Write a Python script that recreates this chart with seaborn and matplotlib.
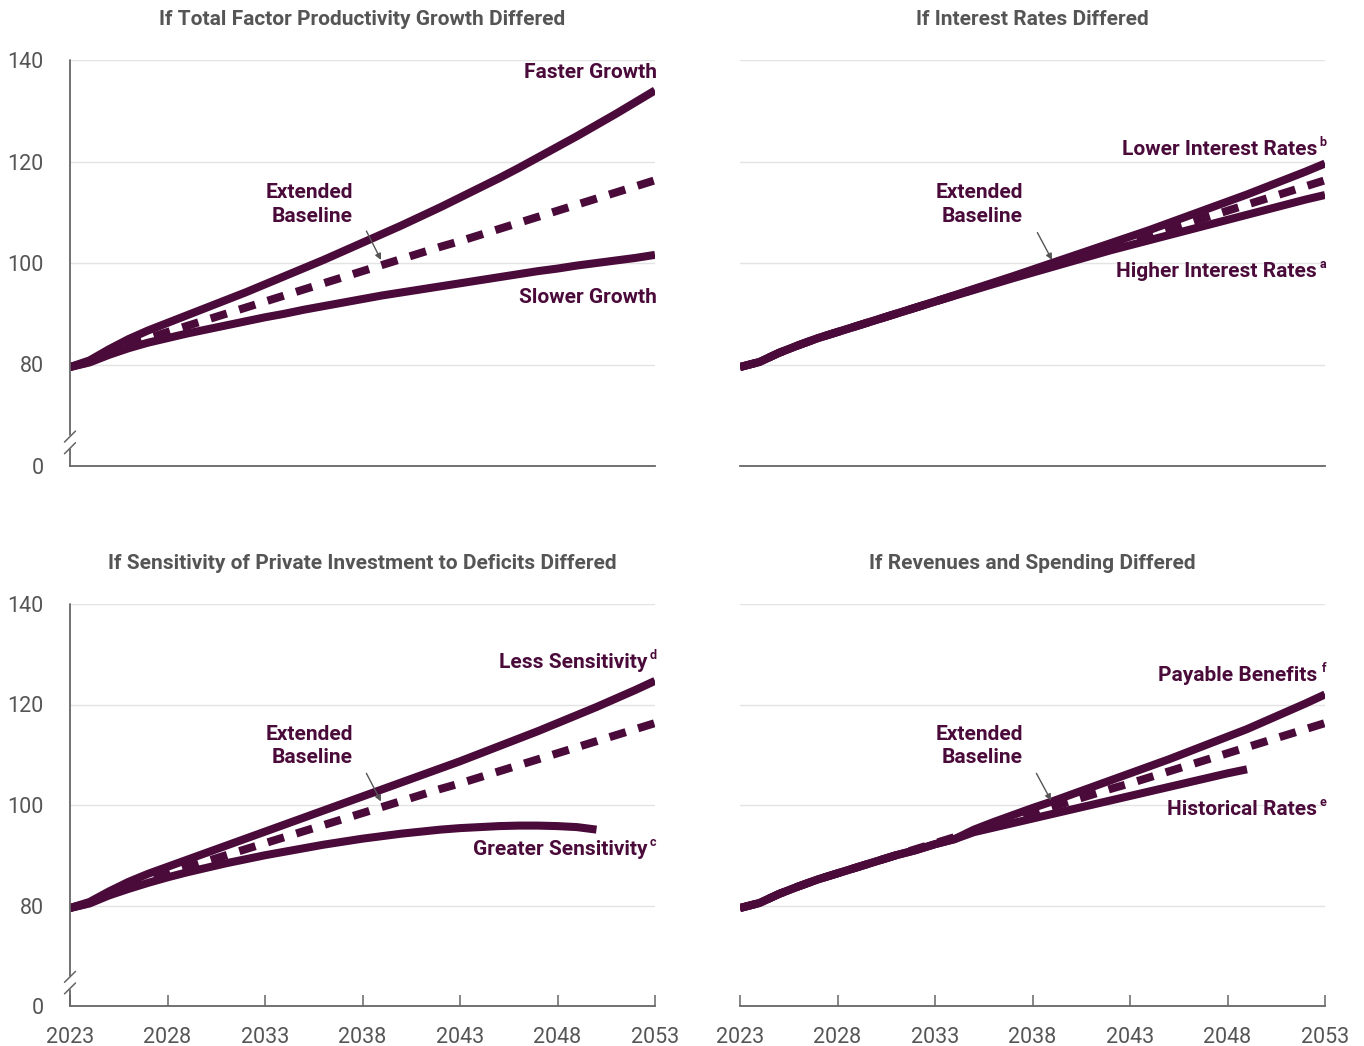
import numpy as np
import pandas as pd
import matplotlib
matplotlib.use("Agg")
import matplotlib.pyplot as plt
import seaborn as sns

years = list(range(2023, 2054))

baseline = [79.5, 80.5, 82.3, 83.8, 85.2, 86.4, 87.6, 88.8, 90.0, 91.2, 92.4, 93.6, 94.8, 96.0,
            97.2, 98.4, 99.6, 100.8, 102.0, 103.2, 104.3, 105.5, 106.7, 107.9, 109.1, 110.3,
            111.5, 112.7, 113.9, 115.1, 116.3]

faster_growth = [79.5, 80.8, 83.0, 85.0, 86.7, 88.2, 89.7, 91.2, 92.7, 94.2, 95.8, 97.4, 99.0,
                 100.6, 102.3, 104.0, 105.7, 107.4, 109.2, 111.0, 112.9, 114.8, 116.7, 118.7,
                 120.8, 122.9, 125.0, 127.2, 129.4, 131.7, 134.0]
slower_growth = [79.5, 80.4, 81.9, 83.2, 84.3, 85.2, 86.1, 86.9, 87.7, 88.5, 89.3, 90.0, 90.8,
                 91.5, 92.2, 92.9, 93.6, 94.2, 94.8, 95.4, 96.0, 96.6, 97.2, 97.8, 98.4, 98.9,
                 99.5, 100.0, 100.5, 101.0, 101.6]

lower_rates = [79.5, 80.5, 82.3, 83.8, 85.2, 86.4, 87.6, 88.8, 90.0, 91.2, 92.4, 93.65, 94.9,
               96.15, 97.4, 98.7, 100.0, 101.3, 102.6, 103.9, 105.2, 106.5, 107.9, 109.3,
               110.7, 112.1, 113.5, 115.0, 116.5, 118.0, 119.6]
higher_rates = [79.5, 80.5, 82.3, 83.8, 85.2, 86.4, 87.6, 88.8, 90.0, 91.2, 92.4, 93.55, 94.7,
                95.85, 97.0, 98.1, 99.2, 100.3, 101.4, 102.5, 103.5, 104.5, 105.5, 106.5,
                107.5, 108.5, 109.5, 110.5, 111.5, 112.5, 113.4]

less_sensitivity = [79.5, 80.7, 82.8, 84.7, 86.3, 87.7, 89.1, 90.5, 91.9, 93.3, 94.7, 96.1,
                    97.5, 98.9, 100.3, 101.7, 103.1, 104.5, 105.9, 107.3, 108.7, 110.2, 111.7,
                    113.2, 114.7, 116.3, 117.9, 119.5, 121.2, 122.9, 124.7]
greater_years = list(range(2023, 2051))
greater_sensitivity = [79.5, 80.4, 82.0, 83.3, 84.5, 85.6, 86.6, 87.5, 88.4, 89.2, 90.0, 90.7,
                       91.4, 92.1, 92.7, 93.3, 93.8, 94.3, 94.7, 95.1, 95.4, 95.6, 95.8, 95.9,
                       95.9, 95.8, 95.6, 95.1]

payable_benefits = [79.5, 80.5, 82.3, 83.8, 85.2, 86.4, 87.6, 88.8, 90.0, 91.0, 92.2, 93.2,
                    95.1, 96.6, 98.0, 99.4, 100.7, 102.1, 103.5, 104.9, 106.3, 107.7, 109.1,
                    110.6, 112.1, 113.6, 115.1, 116.8, 118.5, 120.2, 122.0]
historical_years = list(range(2023, 2050))
historical_rates = [79.5, 80.5, 82.3, 83.8, 85.2, 86.4, 87.6, 88.8, 90.0, 91.0, 92.2, 93.2,
                    94.6, 95.5, 96.4, 97.3, 98.2, 99.1, 100.0, 100.9, 101.8, 102.7, 103.6,
                    104.5, 105.4, 106.3, 107.1]

titles = ["If Total Factor Productivity Growth Differed",
          "If Interest Rates Differed",
          "If Sensitivity of Private Investment to Deficits Differed",
          "If Revenues and Spending Differed"]

y_ticks = [60, 80, 100, 120, 140]
y_ticklabels = ["0", "80", "100", "120", "140"]
x_ticks = [2023, 2028, 2033, 2038, 2043, 2048, 2053]

PURPLE = "#4a0a3a"
GRAY_TXT = "#555555"
SPINE = "#666666"
GRID = "#e3e3e3"

sns.set_theme(style="white")
FAM = ["Roboto", "DejaVu Sans"]
plt.rcParams["font.family"] = FAM

fig = plt.figure(figsize=(13.64, 10.46), dpi=100)
W, H = 1364, 1046

def make_ax(left_px, top_px, right_px, bottom_px):
    return fig.add_axes([left_px / W, 1 - bottom_px / H, (right_px - left_px) / W,
                         (bottom_px - top_px) / H])

axes = [make_ax(70, 60, 655, 466), make_ax(740, 60, 1325, 466),
        make_ax(70, 604, 655, 1006), make_ax(740, 604, 1325, 1006)]

LW = 5.8
DASH = (0, (2.1, 1.6))

def solid(ax, x, y):
    sns.lineplot(x=x, y=y, ax=ax, color=PURPLE, lw=LW, solid_capstyle="butt")

def dashed(ax, x, y):
    sns.lineplot(x=x, y=y, ax=ax, color=PURPLE, lw=LW, linestyle=DASH,
                 dash_capstyle="butt")

solid(axes[0], years, faster_growth)
solid(axes[0], years, slower_growth)
dashed(axes[0], years, baseline)

solid(axes[1], years, lower_rates)
solid(axes[1], years, higher_rates)
dashed(axes[1], years, baseline)

solid(axes[2], years, less_sensitivity)
solid(axes[2], greater_years, greater_sensitivity)
dashed(axes[2], years, baseline)

solid(axes[3], years, payable_benefits)
solid(axes[3], historical_years, historical_rates)
dashed(axes[3], years, baseline)

for i, ax in enumerate(axes):
    ax.set_xlim(2023, 2053)
    ax.set_ylim(60, 140)
    ax.set_xlabel("")
    ax.set_ylabel("")
    for s in ["top", "right", "left"]:
        ax.spines[s].set_visible(False)
    ax.spines["bottom"].set_color(SPINE)
    ax.spines["bottom"].set_linewidth(1.3)
    for v in [80, 100, 120, 140]:
        ax.axhline(v, color=GRID, lw=1.0, zorder=0)
    ax.set_yticks(y_ticks)
    if i % 2 == 0:
        ax.set_yticklabels(y_ticklabels)
        ax.tick_params(axis="y", length=0, pad=19, labelsize=15.5, labelcolor=GRAY_TXT)
        for lab in ax.get_yticklabels():
            lab.set_horizontalalignment("right")
        # left spine with break marks
        tr = ax.transAxes
        b1 = (63.5 - 60) / 80
        b2 = (65.8 - 60) / 80
        ax.plot([0, 0], [0, b1 - 0.003], transform=tr, color=SPINE, lw=1.3, clip_on=False)
        ax.plot([0, 0], [b2 + 0.003, 1], transform=tr, color=SPINE, lw=1.3, clip_on=False)
        dx = 5.5 / 585
        dy = 5.5 / 406
        for b in (b1, b2):
            ax.plot([-dx, dx], [b - dy, b + dy], transform=tr, color=SPINE, lw=1.1,
                    clip_on=False)
    else:
        ax.set_yticklabels([])
        ax.tick_params(axis="y", length=0)
    ax.set_xticks(x_ticks)
    if i >= 2:
        ax.set_xticklabels([str(t) for t in x_ticks])
        ax.tick_params(axis="x", direction="in", length=8, width=1.1, color=SPINE,
                       pad=15, labelsize=15.5, labelcolor=GRAY_TXT, bottom=True)
    else:
        ax.set_xticklabels([])
        ax.tick_params(axis="x", length=0)
    ax.set_title(titles[i], fontsize=15, fontweight="bold", color=GRAY_TXT, pad=25)

LBL = dict(color=PURPLE, fontsize=15, fontweight="bold")

def label(ax, x, y, text, sup=None):
    off = -7 if sup else 0
    ax.annotate(text, xy=(x, y), xytext=(off, 0), textcoords="offset points",
                ha="right", va="center", annotation_clip=False, **LBL)
    if sup:
        ax.annotate(sup, xy=(x, y), xytext=(-0.5, 5), textcoords="offset points",
                    ha="right", va="center", color=PURPLE, fontsize=9,
                    fontweight="bold", annotation_clip=False)

def baseline_label(ax, tx, ty, ax_, ay_):
    ax.annotate("Extended\nBaseline", xy=(tx, ty), ha="right", va="center",
                multialignment="right", linespacing=1.3, **LBL)
    ax.annotate("", xy=(ax_, ay_[1]), xytext=(ax_ - 0.75, ay_[0]),
                arrowprops=dict(arrowstyle="-|>", color="#555555", lw=1.0,
                                mutation_scale=9, shrinkA=0, shrinkB=0))

label(axes[0], 2053.1, 137.6, "Faster Growth")
label(axes[0], 2053.1, 93.2, "Slower Growth")
baseline_label(axes[0], 2037.5, 111.5, 2038.95, (106.3, 100.6))

label(axes[1], 2053.1, 122.3, "Lower Interest Rates", "b")
label(axes[1], 2053.1, 98.3, "Higher Interest Rates", "a")
baseline_label(axes[1], 2037.5, 111.5, 2039.0, (106.0, 100.6))

label(axes[2], 2053.1, 128.4, "Less Sensitivity", "d")
label(axes[2], 2053.1, 91.2, "Greater Sensitivity", "c")
baseline_label(axes[2], 2037.5, 111.7, 2038.95, (106.3, 100.7))

label(axes[3], 2053.1, 125.8, "Payable Benefits", "f")
label(axes[3], 2053.1, 99.1, "Historical Rates", "e")
baseline_label(axes[3], 2037.5, 111.7, 2038.95, (106.3, 100.9))

fig.savefig("out.png", dpi=100)
